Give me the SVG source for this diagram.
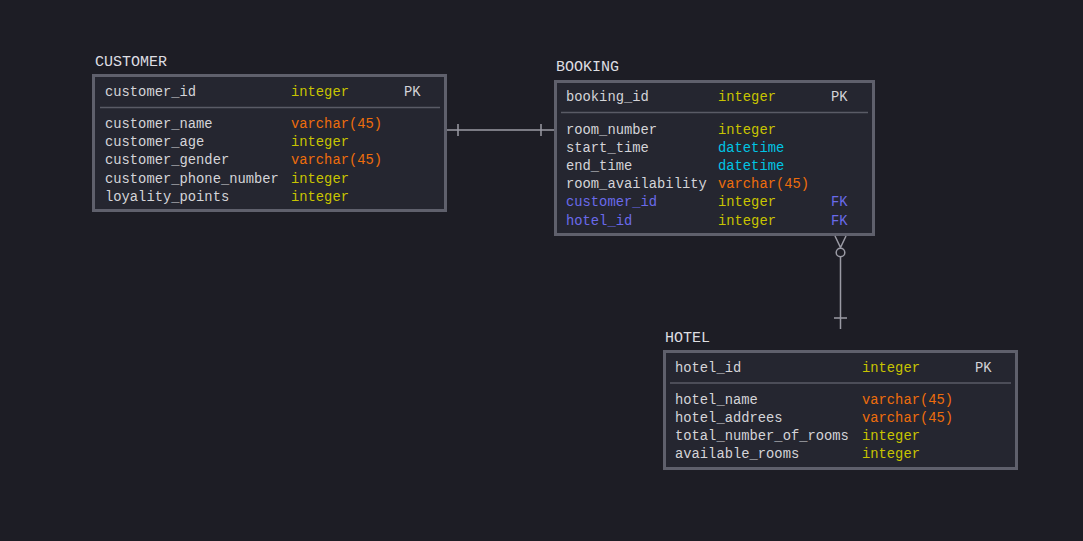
<svg xmlns="http://www.w3.org/2000/svg" width="1083" height="541" viewBox="0 0 1083 541">
<style>
text{font-family:"Liberation Mono","DejaVu Sans Mono",monospace;font-size:13.8px;fill:#d4d4d8}
.title{fill:#dedee2;font-size:15px}
.box{fill:#252630;stroke:#5f606c;stroke-width:3}
.sep{stroke:#5a5b66;stroke-width:1.5}
.int{fill:#c8c400}
.var{fill:#ee6d0c}
.dt{fill:#00c4e4}
.fk{fill:#6a6aea}
.conn{stroke:#9a9aa4;stroke-width:1.5;fill:none}
</style>
<rect width="1083" height="541" fill="#1d1d25"/>
<g id="customer">
<text class="title" x="95" y="66">CUSTOMER</text>
<rect class="box" x="93.5" y="75.5" width="352" height="135"/>
<line class="sep" x1="100" y1="107.5" x2="440" y2="107.5"/>
<text x="105" y="96">customer_id</text><text class="int" x="291" y="96">integer</text><text x="404" y="96">PK</text>
<text x="105" y="128">customer_name</text><text class="var" x="291" y="128">varchar(45)</text>
<text x="105" y="146.2">customer_age</text><text class="int" x="291" y="146.2">integer</text>
<text x="105" y="164.4">customer_gender</text><text class="var" x="291" y="164.4">varchar(45)</text>
<text x="105" y="182.6">customer_phone_number</text><text class="int" x="291" y="182.6">integer</text>
<text x="105" y="200.8">loyality_points</text><text class="int" x="291" y="200.8">integer</text>
</g>
<g id="booking">
<text class="title" x="556" y="71">BOOKING</text>
<rect class="box" x="555.5" y="81.5" width="318" height="153"/>
<line class="sep" x1="561" y1="112.5" x2="868" y2="112.5"/>
<text x="566" y="101">booking_id</text><text class="int" x="718" y="101">integer</text><text x="831" y="101">PK</text>
<text x="566" y="133.5">room_number</text><text class="int" x="718" y="133.5">integer</text>
<text x="566" y="151.7">start_time</text><text class="dt" x="718" y="151.7">datetime</text>
<text x="566" y="169.9">end_time</text><text class="dt" x="718" y="169.9">datetime</text>
<text x="566" y="188.1">room_availability</text><text class="var" x="718" y="188.1">varchar(45)</text>
<text class="fk" x="566" y="206.3">customer_id</text><text class="int" x="718" y="206.3">integer</text><text class="fk" x="831" y="206.3">FK</text>
<text class="fk" x="566" y="224.5">hotel_id</text><text class="int" x="718" y="224.5">integer</text><text class="fk" x="831" y="224.5">FK</text>
</g>
<g id="hotel">
<text class="title" x="665" y="341.5">HOTEL</text>
<rect class="box" x="664.5" y="351.5" width="352" height="117"/>
<line class="sep" x1="670" y1="383" x2="1011" y2="383"/>
<text x="675" y="371.5">hotel_id</text><text class="int" x="862" y="371.5">integer</text><text x="975" y="371.5">PK</text>
<text x="675" y="403.5">hotel_name</text><text class="var" x="862" y="403.5">varchar(45)</text>
<text x="675" y="421.7">hotel_addrees</text><text class="var" x="862" y="421.7">varchar(45)</text>
<text x="675" y="439.9">total_number_of_rooms</text><text class="int" x="862" y="439.9">integer</text>
<text x="675" y="458.1">available_rooms</text><text class="int" x="862" y="458.1">integer</text>
</g>
<g id="connectors">
<path class="conn" d="M447 130H554M458 124V136M541 124V136"/>
<path class="conn" d="M840.5 257V329M834 318H847M835 236L840.5 247.5L846 236"/>
<circle class="conn" cx="840.5" cy="252.5" r="4.3"/>
</g>
</svg>
